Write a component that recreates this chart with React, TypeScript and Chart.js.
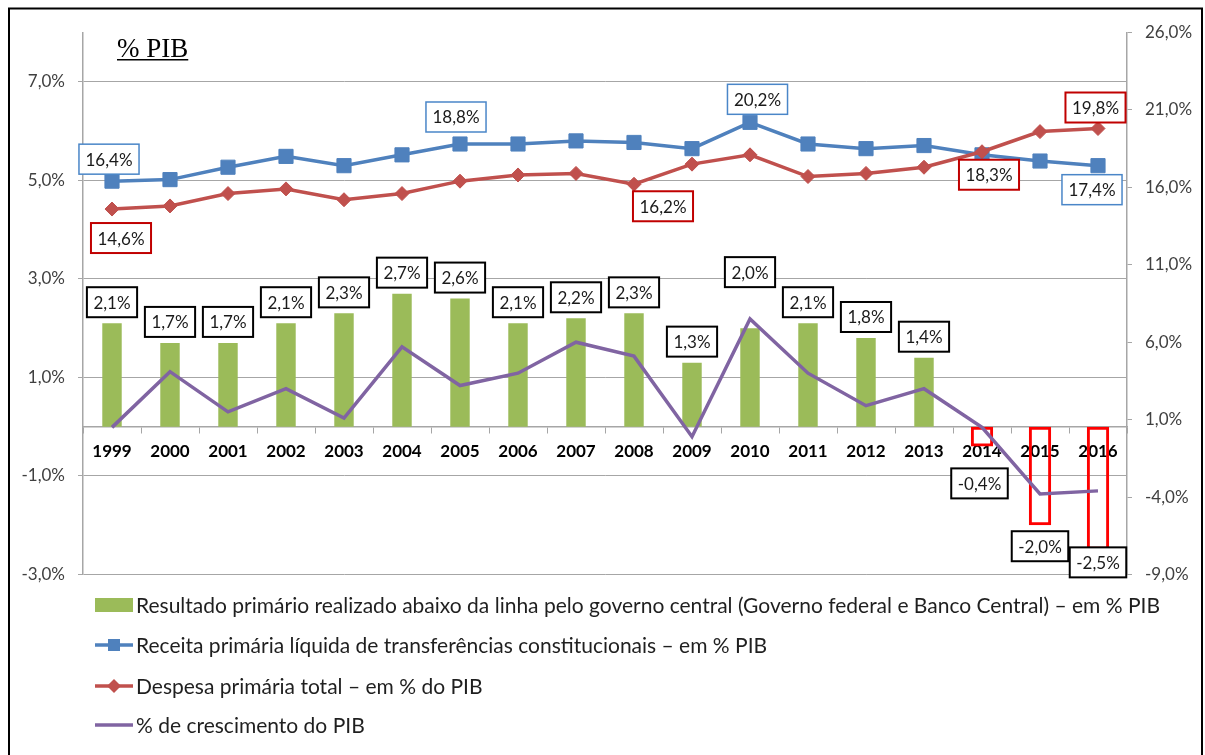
import React, { useEffect, useRef } from 'react';
import { Chart, registerables } from 'chart.js';

Chart.register(...registerables);

// ---------- data ----------
const years = ['1999', '2000', '2001', '2002', '2003', '2004', '2005', '2006', '2007', '2008', '2009', '2010', '2011', '2012', '2013', '2014', '2015', '2016'];
const resultadoPrimario = [2.1, 1.7, 1.7, 2.1, 2.3, 2.7, 2.6, 2.1, 2.2, 2.3, 1.3, 2.0, 2.1, 1.8, 1.4, -0.4, -2.0, -2.5];
const receitaLiquida = [16.4, 16.5, 17.3, 18.0, 17.4, 18.1, 18.8, 18.8, 19.0, 18.9, 18.5, 20.2, 18.8, 18.5, 18.7, 18.1, 17.7, 17.4];
const despesaTotal = [14.6, 14.8, 15.6, 15.9, 15.2, 15.6, 16.4, 16.8, 16.9, 16.2, 17.5, 18.1, 16.7, 16.9, 17.3, 18.3, 19.6, 19.8];
const crescimentoPIB = [0.5, 4.1, 1.5, 3.0, 1.1, 5.7, 3.2, 4.0, 6.0, 5.1, -0.1, 7.5, 4.0, 1.9, 3.0, 0.5, -3.8, -3.6];
const leftTicks = [-3, -1, 1, 3, 5, 7];
const unitTitle = '% PIB';
const legendLabels = [
  'Resultado primário realizado abaixo da linha pelo governo central (Governo federal e Banco Central) – em % PIB',
  'Receita primária líquida de transferências constitucionais – em % PIB',
  'Despesa primária total – em % do PIB',
  '% de crescimento do PIB',
];
// which points of the line series carry a value label
const receitaLabelIdx = [0, 6, 11, 17];
const despesaLabelIdx = [0, 9, 15, 17];

// ---------- label placement (styling, not data) ----------
const barLabelDx = [0, 0, 0, 0, 0, 0, 0, 0, 0, 0, 0, 0, 0, 0, 0, -2.5, 0, 0];
const barLabelDy = [-21, -21, -21, -21, -21, -21, -21, -21, -21, -21, -21, -56, -21, -21, -21, 37, 21, 12.5];
const receitaLabelOffset = [[-3, -22], [-4, -27], [7.5, -23], [-6, 24]];
const despesaLabelOffset = [[9, 29], [29, 22], [7, 23], [-2.5, -21]];

const BLUE = '#4F81BD';
const RED = '#C0504D';
const GREEN = '#9BBB59';
const PURPLE = '#8064A2';
const GRID = '#a6a6a6';
const FONT = 'Lato';

const fmt = (v: number) => v.toFixed(1).replace('.', ',') + '%';

export default function App() {
  const ref = useRef<HTMLCanvasElement>(null);

  useEffect(() => {
    const canvas = ref.current;
    if (!canvas) return;

    const framePlugin = {
      id: 'frame',
      beforeDraw(chart: any) {
        const ctx = chart.ctx;
        ctx.save();
        ctx.fillStyle = '#fff';
        ctx.fillRect(0, 0, chart.width, chart.height);
        ctx.strokeStyle = '#000';
        ctx.lineWidth = 2;
        ctx.beginPath();
        ctx.moveTo(9, 770);
        ctx.lineTo(9, 8.5);
        ctx.lineTo(1202, 8.5);
        ctx.lineTo(1202, 770);
        ctx.stroke();
        ctx.font = `27px "Liberation Serif"`;
        ctx.fillStyle = '#000';
        ctx.textAlign = 'left';
        ctx.textBaseline = 'alphabetic';
        ctx.fillText(unitTitle, 117, 57);
        const w = ctx.measureText(unitTitle).width;
        ctx.fillRect(117, 59, w, 1.5);
        ctx.restore();
      },
    };

    const labelPlugin = {
      id: 'boxLabels',
      afterDatasetsDraw(chart: any) {
        const ctx = chart.ctx;
        const xs = chart.scales.x;
        const ys = chart.scales.y;
        const y1 = chart.scales.y1;
        const drawBox = (cx: number, cy: number, text: string, color: string, lw: number) => {
          ctx.font = `17px ${FONT}`;
          const w = ctx.measureText(text).width + 13;
          const h = 30;
          ctx.fillStyle = '#fff';
          ctx.fillRect(cx - w / 2, cy - h / 2, w, h);
          ctx.strokeStyle = color;
          ctx.lineWidth = lw;
          ctx.strokeRect(cx - w / 2, cy - h / 2, w, h);
          ctx.fillStyle = '#1a1a1a';
          ctx.textAlign = 'center';
          ctx.textBaseline = 'middle';
          ctx.fillText(text, cx, cy + 1);
        };
        ctx.save();
        resultadoPrimario.forEach((v, i) => {
          drawBox(xs.getPixelForValue(i) + barLabelDx[i], ys.getPixelForValue(v) + barLabelDy[i], fmt(v), '#000', 2);
        });
        receitaLabelIdx.forEach((idx, k) => {
          const [dx, dy] = receitaLabelOffset[k];
          drawBox(xs.getPixelForValue(idx) + dx, y1.getPixelForValue(receitaLiquida[idx]) + dy, fmt(receitaLiquida[idx]), '#4A86C8', 1.5);
        });
        despesaLabelIdx.forEach((idx, k) => {
          const [dx, dy] = despesaLabelOffset[k];
          drawBox(xs.getPixelForValue(idx) + dx, y1.getPixelForValue(despesaTotal[idx]) + dy, fmt(despesaTotal[idx]), '#C00000', 2);
        });
        ctx.restore();
      },
    };

    const legendPlugin = {
      id: 'customLegend',
      afterDraw(chart: any) {
        const ctx = chart.ctx;
        const rows = [605, 645, 686, 725];
        const x0 = 95;
        const x1 = 133;
        ctx.save();
        // green box
        ctx.fillStyle = GREEN;
        ctx.fillRect(x0, rows[0] - 7, x1 - x0, 14);
        // blue line + square
        ctx.lineWidth = 3.5;
        ctx.strokeStyle = BLUE;
        ctx.beginPath();
        ctx.moveTo(x0, rows[1]);
        ctx.lineTo(x1, rows[1]);
        ctx.stroke();
        ctx.fillStyle = BLUE;
        ctx.fillRect((x0 + x1) / 2 - 6, rows[1] - 6, 12, 12);
        // red line + diamond
        ctx.strokeStyle = RED;
        ctx.beginPath();
        ctx.moveTo(x0, rows[2]);
        ctx.lineTo(x1, rows[2]);
        ctx.stroke();
        ctx.fillStyle = RED;
        const cx = (x0 + x1) / 2;
        ctx.beginPath();
        ctx.moveTo(cx, rows[2] - 7);
        ctx.lineTo(cx + 7, rows[2]);
        ctx.lineTo(cx, rows[2] + 7);
        ctx.lineTo(cx - 7, rows[2]);
        ctx.closePath();
        ctx.fill();
        // purple line
        ctx.strokeStyle = PURPLE;
        ctx.beginPath();
        ctx.moveTo(x0, rows[3]);
        ctx.lineTo(x1, rows[3]);
        ctx.stroke();
        // texts
        ctx.font = `21px ${FONT}`;
        ctx.fillStyle = '#1f1f1f';
        ctx.textAlign = 'left';
        ctx.textBaseline = 'middle';
        legendLabels.forEach((t, i) => ctx.fillText(t, 136, rows[i] + 1));
        ctx.restore();
      },
    };

    const chart = new Chart(canvas, {
      type: 'bar',
      data: {
        labels: years,
        datasets: [
          {
            type: 'line',
            label: legendLabels[3],
            data: crescimentoPIB,
            yAxisID: 'y1',
            borderColor: PURPLE,
            borderWidth: 3.5,
            pointRadius: 0,
            tension: 0,
            order: 1,
          },
          {
            type: 'line',
            label: legendLabels[2],
            data: despesaTotal,
            yAxisID: 'y1',
            borderColor: RED,
            backgroundColor: RED,
            borderWidth: 3.5,
            pointStyle: 'rectRot',
            pointRadius: 7,
            pointBorderWidth: 1,
            pointBackgroundColor: RED,
            pointBorderColor: RED,
            tension: 0,
            order: 2,
          },
          {
            type: 'line',
            label: legendLabels[1],
            data: receitaLiquida,
            yAxisID: 'y1',
            borderColor: BLUE,
            backgroundColor: BLUE,
            borderWidth: 3.5,
            pointStyle: 'rect',
            pointRadius: 10,
            pointBorderWidth: 1,
            pointBackgroundColor: BLUE,
            pointBorderColor: BLUE,
            tension: 0,
            order: 3,
          },
          {
            type: 'bar',
            label: legendLabels[0],
            data: resultadoPrimario.map((v) => (v >= 0 ? v : null)),
            yAxisID: 'y',
            backgroundColor: GREEN,
            borderWidth: 0,
            grouped: false,
            categoryPercentage: 1,
            barPercentage: 0.335,
            order: 4,
          },
          {
            type: 'bar',
            label: legendLabels[0] + ' (neg)',
            data: resultadoPrimario.map((v) => (v < 0 ? v : null)),
            yAxisID: 'y',
            backgroundColor: 'rgba(0,0,0,0)',
            borderColor: '#FF0000',
            borderWidth: 3,
            borderSkipped: false,
            grouped: false,
            categoryPercentage: 1,
            barPercentage: 0.385,
            order: 5,
          },
        ] as any,
      },
      options: {
        responsive: false,
        animation: false,
        events: [],
        layout: { padding: { top: 32.5, bottom: 180.5, left: 0, right: 0 } },
        plugins: {
          legend: { display: false },
          tooltip: { enabled: false },
          title: { display: false },
        },
        scales: {
          x: {
            position: { y: 0 } as any,
            offset: true,
            grid: { display: true, offset: true, drawOnChartArea: false, drawTicks: true, tickLength: 6, color: GRID, lineWidth: 1 },
            border: { display: true, color: GRID, width: 1.5 },
            ticks: { color: '#000', font: { family: FONT, size: 17, weight: 'bold' }, padding: 9, maxRotation: 0, autoSkip: false },
          },
          y: {
            position: 'left',
            min: -3,
            max: 8,
            afterBuildTicks: (scale: any) => {
              scale.ticks = leftTicks.map((v) => ({ value: v }));
            },
            afterFit: (scale: any) => {
              scale.width = 83;
            },
            grid: { color: GRID, lineWidth: 1, tickLength: 5, drawTicks: true },
            border: { display: true, color: GRID, width: 1.5 },
            ticks: { color: '#404040', font: { family: FONT, size: 17 }, padding: 13, callback: (v: any) => fmt(Number(v)) },
          },
          y1: {
            position: 'right',
            min: -9,
            max: 26,
            ticks: { stepSize: 5, color: '#404040', font: { family: FONT, size: 17 }, padding: 13, callback: (v: any) => fmt(Number(v)) },
            afterFit: (scale: any) => {
              scale.width = 78;
            },
            grid: { drawOnChartArea: false, drawTicks: true, tickLength: 5, color: GRID, lineWidth: 1 },
            border: { display: true, color: GRID, width: 1.5 },
          },
        },
      } as any,
      plugins: [framePlugin, labelPlugin, legendPlugin],
    });

    return () => chart.destroy();
  }, []);

  return (
    <div style={{ position: 'absolute', left: 0, top: 0, width: 1205, height: 755 }}>
      <canvas ref={ref} width={1205} height={755} style={{ display: 'block', width: 1205, height: 755 }} />
    </div>
  );
}
